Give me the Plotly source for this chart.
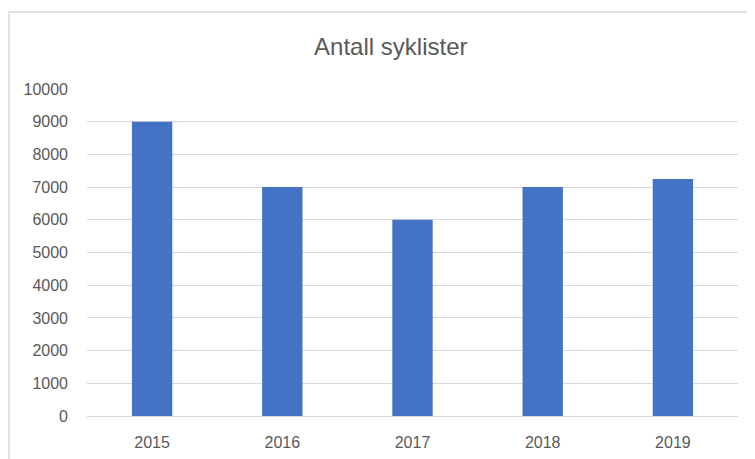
import plotly.graph_objects as go

aar = ['2015', '2016', '2017', '2018', '2019']
syklister = [9000, 7000, 6000, 7000, 7250]
y_ticks = [0, 1000, 2000, 3000, 4000, 5000, 6000, 7000, 8000, 9000, 10000]

fig = go.Figure()
fig.add_trace(go.Bar(x=aar, y=syklister, marker_color='#4472C4', marker_line_width=0, width=0.31))

font = 'Liberation Sans, Arial'

# siden har 8 px marg, så plottet flyttes tilsvarende
fig.update_layout(
    width=755, height=459,
    margin=dict(l=79, r=25, t=81, b=51),
    paper_bgcolor='white', plot_bgcolor='white',
    title=dict(text='Antall syklister', x=0.507, xanchor='center', y=1 - 39 / 459, yanchor='middle',
               font=dict(family=font, size=24, color='#595959')),
    font=dict(family=font, size=16, color='#595959'),
    showlegend=False,
    bargap=0.69,
)
fig.update_yaxes(range=[0, 10000], tickvals=y_ticks, ticktext=[str(v) for v in y_ticks],
                 showgrid=True, gridcolor='#d9d9d9', gridwidth=1,
                 zeroline=False, showline=False, ticklabelstandoff=18)
fig.update_xaxes(showline=True, linecolor='#d9d9d9', linewidth=1, showgrid=False, ticklabelstandoff=12)

# ramme rundt diagrammet
fig.add_shape(type='rect', xref='paper', yref='paper',
              x0=(9 - 87) / 651, x1=(770 - 87) / 651, y0=(416 - 470) / 327, y1=(416 - 12) / 327,
              line=dict(color='#d9d9d9', width=1.5), layer='below')

fig.write_html("out.html")
